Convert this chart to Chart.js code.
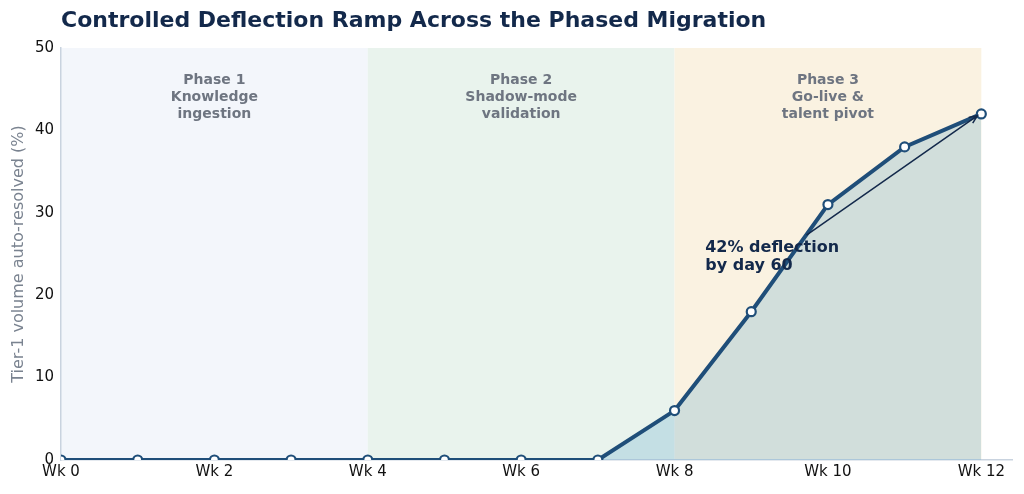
<!DOCTYPE html>
<html>
<head>
<meta charset="utf-8">
<script src="https://cdn.jsdelivr.net/npm/chart.js@4.4.0/dist/chart.umd.min.js"></script>
<style>
  html, body { margin: 0; padding: 0; background: #ffffff; }
  #wrap { width: 1024px; height: 494px; }
</style>
</head>
<body>
<div id="wrap"><canvas id="rampChart" width="1024" height="494"></canvas></div>
<script>
// Data
const weeks = [0, 1, 2, 3, 4, 5, 6, 7, 8, 9, 10, 11, 12];
const deflection = [0, 0, 0, 0, 0, 0, 0, 0, 6, 18, 31, 38, 42];
const xTickWeeks = [0, 2, 4, 6, 8, 10, 12];

const phaseStart = [0, 4, 8];
const phaseEnd = [4, 8, 12];
const phaseLabels = [
    ['Phase 1', 'Knowledge', 'ingestion'],
    ['Phase 2', 'Shadow-mode', 'validation'],
    ['Phase 3', 'Go-live &', 'talent pivot']
];
const phaseColors = ['#f3f6fb', '#e9f3ed', '#faf2e1'];

const calloutText = ['42% deflection', 'by day 60'];
const calloutAnchor = { x: 8.4, y: 24.6 };
const arrowFrom = { x: 9.72, y: 27.3 };
const arrowTo = { x: 11.95, y: 41.8 };

const chartTitle = 'Controlled Deflection Ramp Across the Phased Migration';
const yAxisTitle = 'Tier-1 volume auto-resolved (%)';

const FONT = "'DejaVu Sans', sans-serif";
const NAVY = '#13294b';
const LINE = '#1f4e79';

// Phase backgrounds, phase captions and the title
const phaseBands = {
    id: 'phaseBands',
    beforeDraw(chart) {
        const { ctx, chartArea, scales: { x, y } } = chart;
        ctx.save();
        phaseStart.forEach((s, i) => {
            const x0 = x.getPixelForValue(s);
            const x1 = x.getPixelForValue(phaseEnd[i]);
            ctx.fillStyle = phaseColors[i];
            ctx.fillRect(x0, chartArea.top, x1 - x0, chartArea.bottom - chartArea.top);
        });

        ctx.fillStyle = '#6e7581';
        ctx.font = 'bold 14px ' + FONT;
        ctx.textAlign = 'center';
        ctx.textBaseline = 'middle';
        phaseLabels.forEach((lines, i) => {
            const cx = x.getPixelForValue((phaseStart[i] + phaseEnd[i]) / 2);
            const top = y.getPixelForValue(46.1);
            lines.forEach((txt, j) => ctx.fillText(txt, cx, top + j * 17));
        });

        ctx.fillStyle = NAVY;
        ctx.font = 'bold 22px ' + FONT;
        ctx.textAlign = 'left';
        ctx.fillText(chartTitle, chartArea.left, 21);
        ctx.restore();
    },
    afterDatasetsDraw(chart) {
        const { ctx, scales: { x, y } } = chart;
        ctx.save();
        // callout text
        ctx.fillStyle = NAVY;
        ctx.font = 'bold 16px ' + FONT;
        ctx.textAlign = 'left';
        ctx.textBaseline = 'middle';
        const tx = x.getPixelForValue(calloutAnchor.x);
        const ty = y.getPixelForValue(calloutAnchor.y);
        ctx.fillText(calloutText[0], tx, ty - 9);
        ctx.fillText(calloutText[1], tx, ty + 9);

        // arrow
        const ax = x.getPixelForValue(arrowFrom.x), ay = y.getPixelForValue(arrowFrom.y);
        const bx = x.getPixelForValue(arrowTo.x), by = y.getPixelForValue(arrowTo.y);
        ctx.strokeStyle = NAVY;
        ctx.lineWidth = 1.5;
        ctx.beginPath();
        ctx.moveTo(ax, ay);
        ctx.lineTo(bx, by);
        const ang = Math.atan2(by - ay, bx - ax);
        ctx.moveTo(bx - 9 * Math.cos(ang - 0.4), by - 9 * Math.sin(ang - 0.4));
        ctx.lineTo(bx, by);
        ctx.lineTo(bx - 9 * Math.cos(ang + 0.4), by - 9 * Math.sin(ang + 0.4));
        ctx.stroke();
        ctx.restore();
    }
};

const ctx = document.getElementById('rampChart');

new Chart(ctx, {
    type: 'line',
    data: {
        datasets: [{
            label: 'Deflection',
            data: weeks.map((w, i) => ({ x: w, y: deflection[i] })),
            borderColor: LINE,
            borderWidth: 4,
            backgroundColor: 'rgba(87, 164, 203, 0.25)',
            fill: 'origin',
            tension: 0,
            pointRadius: 4.5,
            pointBorderWidth: 2.2,
            pointBackgroundColor: '#ffffff',
            pointBorderColor: LINE,
            clip: 0
        }]
    },
    options: {
        responsive: false,
        animation: false,
        layout: { padding: { top: 48, right: 12, left: 0, bottom: 0 } },
        plugins: {
            legend: { display: false },
            tooltip: { enabled: false }
        },
        scales: {
            x: {
                type: 'linear',
                min: 0,
                max: 12.4,
                afterFit: (scale) => { scale.height = 34; },
                afterBuildTicks: (scale) => {
                    scale.ticks = xTickWeeks.map(v => ({ value: v }));
                },
                ticks: {
                    color: '#111111',
                    padding: 3,
                    font: { family: FONT, size: 15 },
                    callback: (v) => 'Wk ' + v
                },
                grid: { display: false, drawTicks: false },
                border: { display: true, color: '#c9d3df', width: 1.5 }
            },
            y: {
                min: 0,
                max: 50,
                afterFit: (scale) => { scale.width = 61; },
                ticks: {
                    stepSize: 10,
                    color: '#111111',
                    padding: 7,
                    font: { family: FONT, size: 15 }
                },
                grid: { display: false, drawTicks: false },
                border: { display: true, color: '#c9d3df', width: 1.5 },
                title: {
                    display: true,
                    text: yAxisTitle,
                    color: '#7a8390',
                    padding: { top: 9, bottom: 0 },
                    font: { family: FONT, size: 16 }
                }
            }
        }
    },
    plugins: [phaseBands]
});
</script>
</body>
</html>
